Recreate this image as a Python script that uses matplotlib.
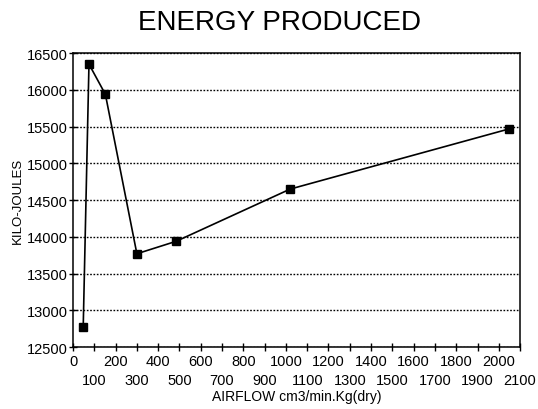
import matplotlib.pyplot as plt
from matplotlib.ticker import FixedLocator

plt.rcParams['font.family'] = ['Liberation Sans', 'DejaVu Sans']

# airflow vs. energy produced
airflow = [48, 75, 152, 300, 485, 1020, 2050]
energy = [12780, 16350, 15940, 13770, 13940, 14650, 15470]

# x labels alternate between two rows
xticks_even = list(range(0, 2001, 200))
xticks_odd = list(range(100, 2101, 200))
yticks = list(range(12500, 16501, 500))

fig = plt.figure(figsize=(5.38, 4.10), dpi=100)
ax = fig.add_axes([0.1357, 0.151, 0.831, 0.717])

ax.plot(airflow, energy, color='black', lw=1.2, marker='s', ms=6,
        mfc='black', mec='black', zorder=3)

ax.set_xlim(0, 2100)
ax.set_ylim(12500, 16500)
ax.xaxis.set_major_locator(FixedLocator(xticks_even))
ax.xaxis.set_minor_locator(FixedLocator(xticks_odd))
ax.set_xticklabels([str(v) for v in xticks_even], fontsize=10.5)
ax.set_xticklabels([str(v) for v in xticks_odd], minor=True, fontsize=10.5)
ax.set_yticks(yticks)
ax.tick_params(axis='y', labelsize=10.5, direction='inout', length=6, width=1, pad=1)
ax.tick_params(axis='x', which='major', direction='inout', length=6, width=1, pad=2)
ax.tick_params(axis='x', which='minor', direction='inout', length=6, width=1, pad=16)

ax.yaxis.grid(True, linestyle=(0, (1.2, 1.2)), color='black', lw=1.0)
ax.set_axisbelow(True)
for s in ax.spines.values():
    s.set_linewidth(1.1)

ax.set_xlabel('AIRFLOW cm3/min.Kg(dry)', fontsize=10, labelpad=1)
ax.set_ylabel('KILO-JOULES', fontsize=9.5, labelpad=2)

fig.text(0.52, 0.945, 'ENERGY PRODUCED', ha='center', va='center', fontsize=20)

fig.savefig('out.png', dpi=100)
